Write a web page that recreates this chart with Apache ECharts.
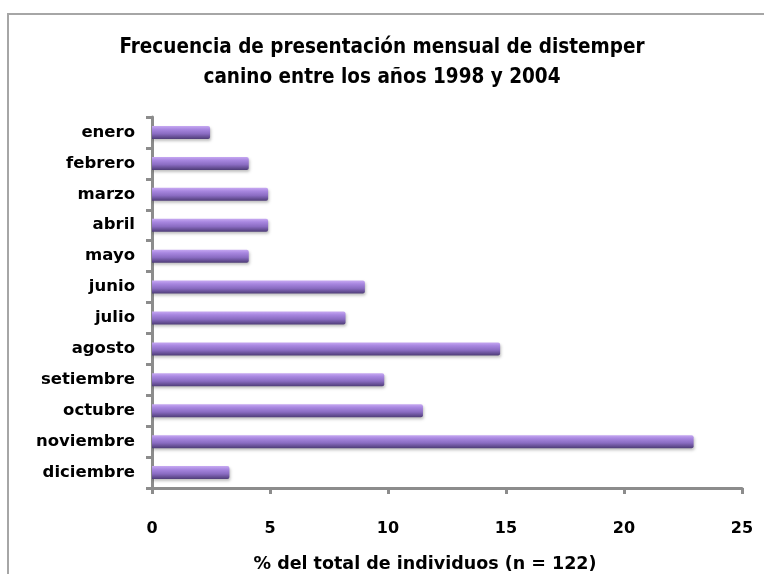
<!DOCTYPE html>
<html>
<head>
<meta charset="utf-8">
<script src="https://cdn.jsdelivr.net/npm/echarts@6/dist/echarts.min.js"></script>
<style>
  html, body { margin: 0; padding: 0; background: #fff; }
  #chart { width: 764px; height: 574px; }
  .frame {
    position: absolute; left: 7px; top: 13px; width: 800px; height: 600px;
    border-left: 2px solid #a6a6a6; border-top: 2px solid #a6a6a6;
    pointer-events: none;
  }
</style>
</head>
<body>
<div class="frame"></div>
<div id="chart"></div>
<script>
// meses de arriba hacia abajo
const months = ['enero', 'febrero', 'marzo', 'abril', 'mayo', 'junio', 'julio',
  'agosto', 'setiembre', 'octubre', 'noviembre', 'diciembre']
// % del total de individuos (n = 122)
const percent = [2.46, 4.10, 4.92, 4.92, 4.10, 9.02, 8.20, 14.75, 9.84, 11.48, 22.95, 3.28]
const xTicks = [0, 5, 10, 15, 20, 25]

const FONT = '"DejaVu Sans", sans-serif'
const TITLE_FONT = '"DejaVu Sans Condensed", "DejaVu Sans", sans-serif'

const chart = echarts.init(document.getElementById('chart'), null, { renderer: 'canvas' })

chart.setOption({
  backgroundColor: 'transparent',
  animation: false,
  title: {
    text: 'Frecuencia de presentación mensual de distemper\ncanino entre los años 1998 y 2004',
    left: 'center',
    top: 28,
    textStyle: { fontFamily: TITLE_FONT, fontSize: 20.5, fontWeight: 'bold', color: '#000', lineHeight: 30 }
  },
  grid: { left: 152, right: 22, top: 117, bottom: 86, containLabel: false, outerBoundsMode: 'none' },
  xAxis: {
    type: 'value',
    min: xTicks[0],
    max: xTicks[xTicks.length - 1],
    interval: 5,
    name: '% del total de individuos (n = 122)',
    nameLocation: 'middle',
    nameGap: 67,
    nameTextStyle: { fontFamily: FONT, fontSize: 17.5, fontWeight: 'bold', color: '#000', padding: [0, 44, 0, 0] },
    axisLine: { show: true, lineStyle: { color: '#8c8c8c', width: 3 } },
    axisTick: { show: true, length: 6, lineStyle: { color: '#8c8c8c', width: 3 } },
    axisLabel: { margin: 33, fontFamily: FONT, fontSize: 16, fontWeight: 'bold', color: '#000' },
    splitLine: { show: false }
  },
  yAxis: {
    type: 'category',
    data: months,
    inverse: true,
    axisLine: { show: true, lineStyle: { color: '#8c8c8c', width: 3 } },
    axisTick: { show: true, length: 6, lineStyle: { color: '#8c8c8c', width: 3 } },
    axisLabel: { margin: 17, fontFamily: FONT, fontSize: 16.5, fontWeight: 'bold', color: '#000' }
  },
  series: [{
    type: 'bar',
    data: percent,
    barWidth: 13,
    itemStyle: {
      color: new echarts.graphic.LinearGradient(0, 0, 0, 1, [
        { offset: 0, color: '#c7a9f2' },
        { offset: 0.25, color: '#a887e0' },
        { offset: 0.6, color: '#8a6cc2' },
        { offset: 1, color: '#4f3d78' }
      ]),
      borderRadius: [0, 2, 2, 0],
      shadowColor: 'rgba(0,0,0,0.25)',
      shadowBlur: 3,
      shadowOffsetX: 1,
      shadowOffsetY: 2
    }
  }]
})
</script>
</body>
</html>
